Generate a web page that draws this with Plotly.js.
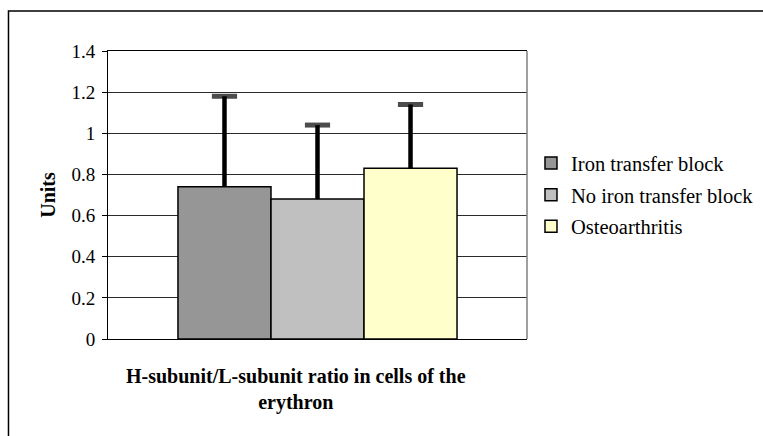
<!DOCTYPE html>
<html>
<head>
<meta charset="utf-8">
<script src="https://cdn.plot.ly/plotly-3.0.1.min.js"></script>
<style>html,body{margin:0;padding:0;background:#fff;}</style>
</head>
<body>
<div id="chart" style="width:763px;height:436px;"></div>
<script>
var category = ['H-subunit/L-subunit ratio in cells of the erythron'];
var seriesNames = ['Iron transfer block', 'No iron transfer block', 'Osteoarthritis'];
var meanValues = [0.74, 0.68, 0.83];
var errorUp = [0.44, 0.36, 0.31];
var barColors = ['#969696', '#C0C0C0', '#FFFFCC'];
var yTicks = [0, 0.2, 0.4, 0.6, 0.8, 1, 1.2, 1.4];
var yTickText = ['0', '0.2', '0.4', '0.6', '0.8', '1', '1.2', '1.4'];

var serif = 'Liberation Serif';

var traces = seriesNames.map(function (name, i) {
  return {
    type: 'bar',
    name: name,
    legendgroup: 'g' + i,
    x: category,
    y: [meanValues[i]],
    marker: { color: barColors[i], line: { color: '#000', width: 1.5 } },
    hoverinfo: 'skip'
  };
});

// upper error bars: stem from mean to mean+error, cap at top (no lower cap)
seriesNames.forEach(function (name, i) {
  traces.push({
    type: 'scatter',
    mode: 'lines+markers',
    name: name + ' error',
    showlegend: false,
    x: [category[0], category[0]],
    y: [meanValues[i], meanValues[i] + errorUp[i]],
    line: { color: '#000', width: 4.5 },
    marker: { symbol: 'line-ew-open', size: [0, 18], color: '#000', line: { color: '#000', width: 5 } },
    hoverinfo: 'skip',
    cliponaxis: false
  });
});

var layout = {
  width: 763, height: 436,
  margin: { l: 108, r: 236, t: 51, b: 97, pad: 0, autoexpand: false },
  paper_bgcolor: '#fff', plot_bgcolor: '#fff',
  font: { family: serif, size: 19, color: '#000' },
  barmode: 'group', bargap: 0.334, bargroupgap: 0,
  scattermode: 'group', scattergap: 0.334,
  showlegend: true,
  legend: {
    x: 1.0095, xanchor: 'left', y: 0.68, yanchor: 'top',
    font: { family: serif, size: 20.5, color: '#000' },
    tracegroupgap: 2, itemclick: false, bgcolor: 'rgba(0,0,0,0)'
  },
  xaxis: {
    type: 'category', range: [-0.5, 0.5],
    showticklabels: false, ticks: '', showgrid: false,
    showline: true, linecolor: '#000', linewidth: 1, mirror: true,
    zeroline: false, fixedrange: true
  },
  yaxis: {
    range: [0, 1.4], tickvals: yTicks, ticktext: yTickText,
    ticks: 'outside', ticklen: 5, tickcolor: '#000', tickwidth: 1,
    ticklabelstandoff: 3,
    tickfont: { family: serif, size: 19, color: '#000' },
    showgrid: true, gridcolor: '#2a2a2a', gridwidth: 1,
    showline: true, linecolor: '#000', linewidth: 1,
    zeroline: false, fixedrange: true,
    title: { text: '<b>Units</b>', font: { family: serif, size: 20, color: '#000' }, standoff: 10 }
  },
  annotations: [{
    xref: 'paper', yref: 'paper', x: 0.449, y: -0.177,
    xanchor: 'center', yanchor: 'middle', showarrow: false, align: 'center',
    text: '<b>H-subunit/L-subunit ratio in cells of the<br>erythron</b>',
    font: { family: serif, size: 20, color: '#000' }
  }],
  shapes: [
    { type: 'line', xref: 'paper', yref: 'paper', x0: 1, x1: 1, y0: 0, y1: 1,
      line: { color: '#808080', width: 1.5 } },
    { type: 'rect', xref: 'paper', yref: 'paper', x0: -0.2375, x1: 2, y0: -1, y1: 1.139,
      line: { color: '#000', width: 1.5 }, fillcolor: 'rgba(0,0,0,0)' }
  ]
};

Plotly.newPlot('chart', traces, layout, { displayModeBar: false, staticPlot: true });
</script>
</body>
</html>
